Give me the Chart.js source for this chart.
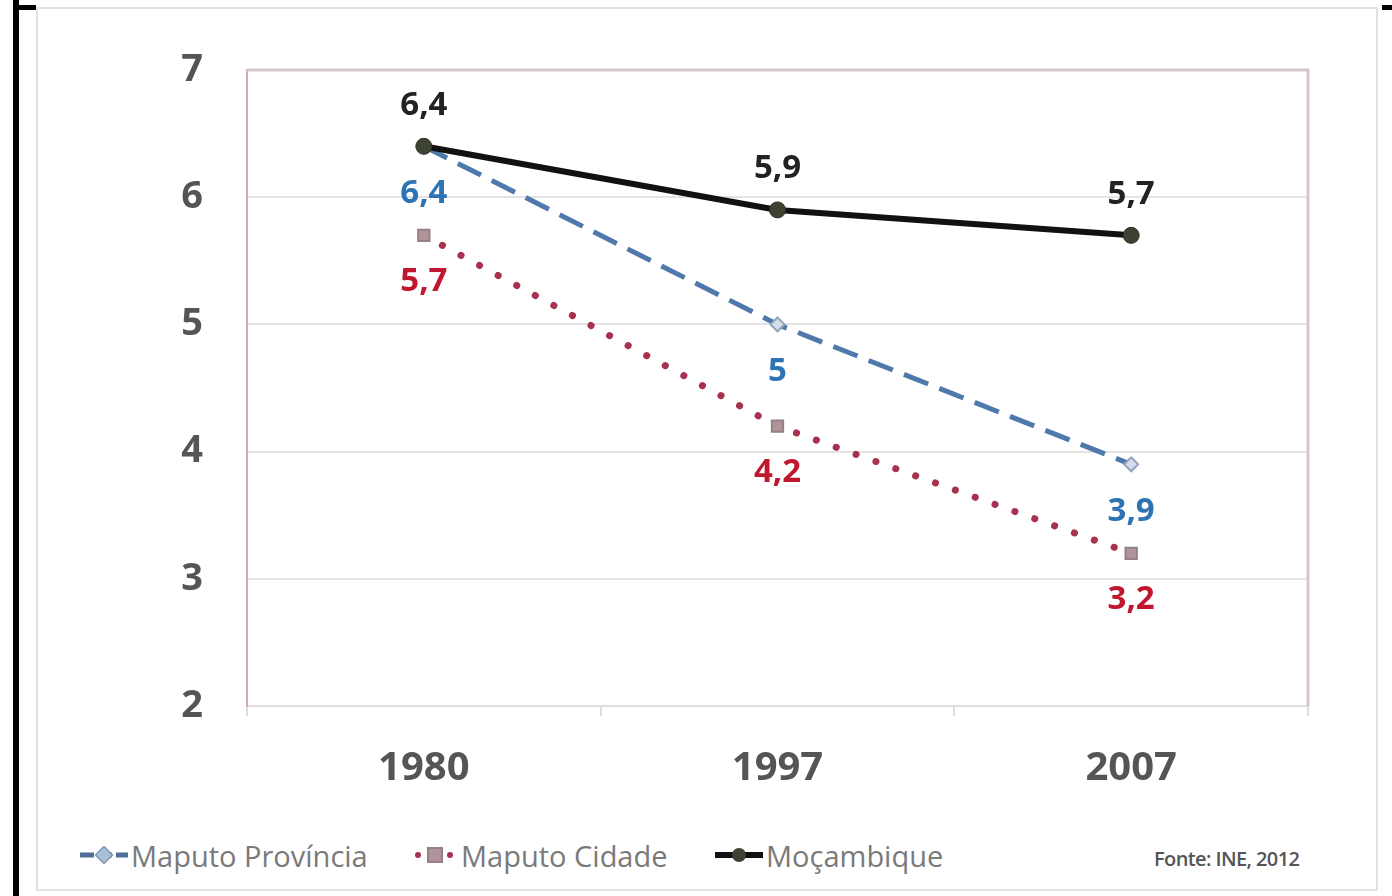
<!DOCTYPE html>
<html>
<head>
<meta charset="utf-8">
<script src="https://cdn.jsdelivr.net/npm/chart.js@4.4.1/dist/chart.umd.min.js"></script>
<style>
  html, body { margin: 0; padding: 0; background: #fff; }
  body { width: 1392px; height: 896px; position: relative; overflow: hidden; font-family: "Open Sans", sans-serif; }
  .bar-left { position: absolute; left: 13px; top: 0; width: 6px; height: 896px; background: #000; }
  .tick-tl { position: absolute; left: 18px; top: 5px; width: 18px; height: 5px; background: #000; }
  .tick-tr { position: absolute; left: 1382px; top: 5px; width: 10px; height: 5px; background: #000; }
  .frame { position: absolute; left: 36px; top: 7px; width: 1342px; height: 884px; border: 2px solid #e2e2e2; box-sizing: border-box; }
  .chart-box { position: absolute; left: 0; top: 0; width: 1392px; height: 810px; }
  .legend { position: absolute; top: 835px; left: 0; height: 40px; }
  .legend .item { position: absolute; top: 0; height: 40px; display: flex; align-items: center; }
  .legend svg { display: block; }
  .legend span { font-size: 29px; color: #7a7a7a; margin-left: 1px; white-space: nowrap; }
  .source { position: absolute; left: 1154px; top: 845px; font-size: 20px; font-weight: 600; color: #555; letter-spacing: -0.6px; }
</style>
</head>
<body>
<div class="bar-left"></div>
<div class="tick-tl"></div>
<div class="tick-tr"></div>
<div class="frame"></div>
<div class="chart-box"><canvas id="chart"></canvas></div>
<div class="legend" id="legend"></div>
<div class="source">Fonte: INE, 2012</div>

<script>
// fertility rate by year
const years = ['1980', '1997', '2007'];
const maputoProvincia = [6.4, 5.0, 3.9];
const maputoCidade = [5.7, 4.2, 3.2];
const mocambique = [6.4, 5.9, 5.7];
const yTicks = [2, 3, 4, 5, 6, 7];

const seriesNames = ['Maputo Província', 'Maputo Cidade', 'Moçambique'];
const lineColors = ['#4f79ab', '#a8324e', '#111111'];
const labelColors = ['#2e74b5', '#c0172e', '#222222'];

const fmt = v => String(v).replace('.', ',');

// value labels, drawn above or below each point
const valueLabels = {
  id: 'valueLabels',
  afterDatasetsDraw(chart) {
    const ctx = chart.ctx;
    ctx.save();
    ctx.font = 'bold 33px "Open Sans"';
    ctx.textAlign = 'center';
    ctx.textBaseline = 'middle';
    chart.data.datasets.forEach((ds, i) => {
      const meta = chart.getDatasetMeta(i);
      ctx.fillStyle = ds.labelColor;
      meta.data.forEach((pt, j) => {
        ctx.fillText(fmt(ds.data[j]), pt.x, pt.y + ds.labelOffset);
      });
    });
    ctx.restore();
  }
};

// top and right edges of the plot box
const plotBox = {
  id: 'plotBox',
  beforeDatasetsDraw(chart) {
    const { ctx, chartArea: a } = chart;
    ctx.save();
    ctx.strokeStyle = '#d6c6ca';
    ctx.lineWidth = 3;
    ctx.beginPath();
    ctx.moveTo(a.left, a.top);
    ctx.lineTo(a.right, a.top);
    ctx.lineTo(a.right, a.bottom);
    ctx.stroke();
    ctx.restore();
  }
};

const ctx = document.getElementById('chart').getContext('2d');
new Chart(ctx, {
  type: 'line',
  data: {
    labels: years,
    datasets: [
      {
        label: seriesNames[2],
        data: mocambique,
        borderColor: lineColors[2],
        borderWidth: 6,
        pointStyle: 'circle',
        pointRadius: 8,
        pointBackgroundColor: '#3d4232',
        pointBorderColor: '#2a2e22',
        pointBorderWidth: 1,
        labelColor: labelColors[2],
        labelOffset: -41,
        order: 0
      },
      {
        label: seriesNames[0],
        data: maputoProvincia,
        borderColor: lineColors[0],
        borderWidth: 5,
        borderDash: [26, 12],
        pointStyle: 'rectRot',
        pointRadius: 7,
        pointBackgroundColor: '#d4dde9',
        pointBorderColor: '#8fa3bd',
        pointBorderWidth: 2,
        labelColor: labelColors[0],
        labelOffset: 47,
        order: 1
      },
      {
        label: seriesNames[1],
        data: maputoCidade,
        borderColor: lineColors[1],
        borderWidth: 7,
        borderDash: [0.1, 21],
        borderCapStyle: 'round',
        pointStyle: 'rect',
        pointRadius: 8,
        pointBackgroundColor: '#b0949a',
        pointBorderColor: '#948086',
        pointBorderWidth: 2,
        labelColor: labelColors[1],
        labelOffset: 46,
        order: 2
      }
    ]
  },
  options: {
    responsive: true,
    maintainAspectRatio: false,
    animation: false,
    layout: { padding: { left: 0, top: 70, right: 84, bottom: 0 } },
    plugins: {
      legend: { display: false },
      tooltip: { enabled: false }
    },
    scales: {
      x: {
        offset: true,
        grid: {
          offset: true,
          drawOnChartArea: false,
          drawTicks: true,
          tickLength: 10,
          color: '#dedede',
          lineWidth: 2
        },
        border: { color: '#dedede', width: 2 },
        ticks: {
          color: '#555',
          padding: 29,
          font: { family: 'Open Sans', size: 40, weight: 'bold' }
        },
        afterFit(scale) { scale.height = 104; }
      },
      y: {
        min: 2,
        max: 7,
        afterBuildTicks(scale) { scale.ticks = yTicks.map(v => ({ value: v })); },
        grid: { color: '#e4e4e4', lineWidth: 2, drawTicks: false },
        border: { color: '#dba7b0', width: 2 },
        ticks: {
          color: '#555',
          padding: 44,
          font: { family: 'Open Sans', size: 38, weight: 'bold' }
        },
        afterFit(scale) { scale.width = 247; }
      }
    }
  },
  plugins: [plotBox, valueLabels]
});

// legend samples: line style plus marker
const legendX = [78, 408, 713];
const legendSvg = [
  '<svg width="52" height="20"><line x1="2" y1="10" x2="50" y2="10" stroke="#4f6f9a" stroke-width="5" stroke-dasharray="14 4"/>' +
    '<rect x="20" y="4" width="12" height="12" transform="rotate(45 26 10)" fill="#a9bfd8" stroke="#7f97b5" stroke-width="1.5"/></svg>',
  '<svg width="52" height="20"><circle cx="10" cy="10" r="3" fill="#a8324e"/>' +
    '<rect x="20" y="3" width="14" height="14" fill="#b0949a" stroke="#948086" stroke-width="2"/>' +
    '<circle cx="42" cy="10" r="3" fill="#a8324e"/></svg>',
  '<svg width="52" height="20"><line x1="2" y1="10" x2="50" y2="10" stroke="#111" stroke-width="6"/>' +
    '<circle cx="26" cy="10" r="7" fill="#3d4232"/></svg>'
];
const legend = document.getElementById('legend');
seriesNames.forEach((name, i) => {
  const item = document.createElement('div');
  item.className = 'item';
  item.style.left = legendX[i] + 'px';
  item.innerHTML = legendSvg[i] + '<span>' + name + '</span>';
  legend.appendChild(item);
});
</script>
</body>
</html>
